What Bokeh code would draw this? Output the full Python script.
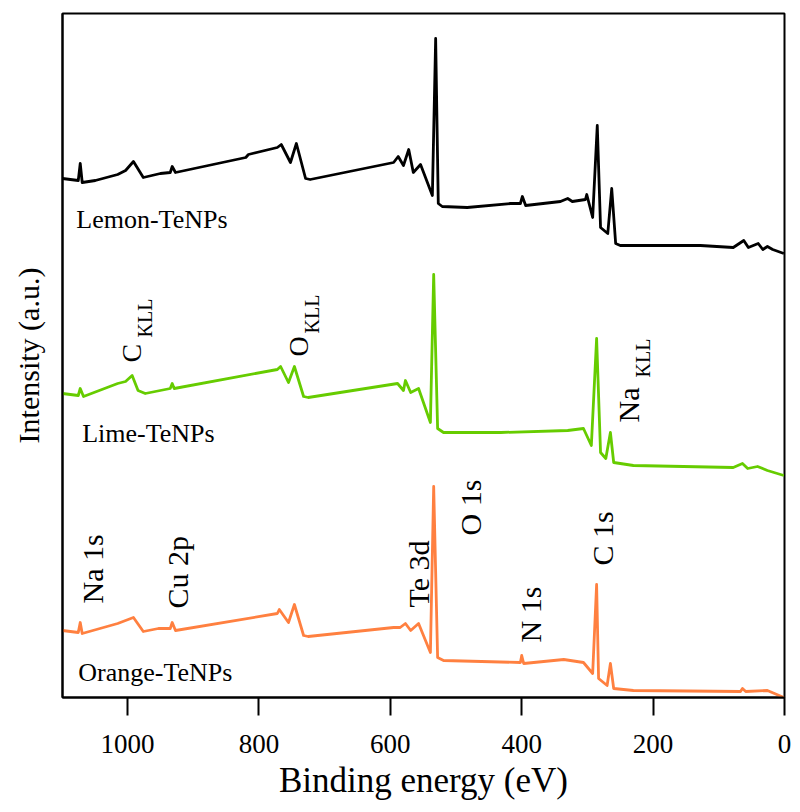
import math
from bokeh.plotting import figure
from bokeh.models import Range1d, FixedTicker
from bokeh.core.properties import value
from bokeh.embed import file_html
from bokeh.resources import INLINE

# ---------------- data ----------------
lemon_energy = [1099, 1075, 1072, 1069, 1049, 1015, 1003, 991, 976, 950, 935, 932, 927,
                820, 816, 772, 766, 752, 743, 729, 722, 595, 588, 580, 572, 565, 554,
                536, 531, 527, 521, 483, 417, 402, 399, 394, 341, 330, 323, 303, 301,
                292, 285, 280, 269, 263, 257, 250, 128, 78, 62, 55, 40, 33, 26, 18, 1]
lemon_intensity = [519, 517, 534, 515, 517, 523, 527, 536, 520, 524, 525, 531, 525,
                   540, 543, 550, 553, 535, 554, 519, 518, 535, 541, 532, 548, 525, 533,
                   502, 659, 494, 491, 490, 494, 494, 501, 492, 496, 499, 496, 498, 503,
                   480, 572, 470, 464, 509, 454, 452, 452, 450, 457, 450, 454, 448, 451, 448, 444]

lime_energy = [1099, 1075, 1072, 1067, 1015, 1003, 993, 984, 973, 935, 932, 929,
               772, 767, 755, 746, 732, 725, 589, 580, 577, 569, 557, 539, 534, 528,
               519, 432, 330, 306, 294, 286, 280, 272, 265, 260, 230, 78, 64, 56, 41, 26, 1]
lime_intensity = [304, 302, 309, 301, 314, 316, 322, 307, 304, 309, 314, 309,
                  328, 331, 315, 331, 301, 300, 314, 307, 317, 305, 309, 275, 423, 269,
                  265, 265, 267, 269, 252, 359, 245, 239, 265, 235, 232, 230, 234, 229, 231, 227, 222]

orange_energy = [1099, 1075, 1072, 1069, 1015, 991, 976, 953, 935, 932, 927,
                 772, 769, 755, 746, 732, 725, 595, 585, 577, 569, 557, 539, 534, 528,
                 519, 402, 400, 397, 336, 306, 292, 286, 283, 270, 265, 260, 230,
                 67, 64, 59, 26, 1]
orange_intensity = [67, 65, 75, 64, 74, 80, 66, 69, 69, 75, 67,
                    84, 88, 75, 93, 62, 61, 70, 70, 74, 67, 74, 45, 211, 40,
                    37, 35, 42, 34, 38, 35, 24, 113, 19, 12, 34, 9, 7,
                    6, 9, 6, 7, 0]

sample_names = ["Lemon-TeNPs", "Lime-TeNPs", "Orange-TeNPs"]
sample_label_energy = [1078, 1069, 1075]
sample_label_intensity = [478, 264, 25]

peak_labels = ["Na 1s", "Cu 2p", "Te 3d", "O 1s", "N 1s", "C 1s", "Na"]
peak_label_energy = [1054, 924, 557, 478, 387, 277, 237]
peak_label_intensity = [94, 89, 90, 162, 55, 132, 275]

auger_main = ["C", "O"]
auger_main_energy = [994, 740]
auger_main_intensity = [335, 341]

auger_sub = ["KLL", "KLL", "KLL"]
auger_sub_energy = [973, 719, 216]
auger_sub_intensity = [360, 364, 320]

x_ticks = [0, 200, 400, 600, 800, 1000]

# ---------------- figure ----------------
FONT = "'Liberation Serif', 'Times New Roman', serif"

p = figure(width=792, height=804, output_backend="svg", toolbar_location=None,
           x_range=Range1d(1099, 0), y_range=Range1d(0, 684),
           min_border_left=62, min_border_right=8, min_border_top=13, min_border_bottom=107)
p.background_fill_color = "white"
p.border_fill_color = "white"
p.xgrid.visible = False
p.ygrid.visible = False
p.outline_line_color = "black"
p.outline_line_width = 2

xa = p.xaxis[0]
xa.ticker = FixedTicker(ticks=x_ticks)
xa.minor_tick_line_color = None
xa.major_tick_in = 0
xa.major_tick_out = 18
xa.major_tick_line_width = 2
xa.major_tick_line_color = "black"
xa.axis_line_width = 2
xa.axis_line_color = "black"
xa.major_label_text_font = FONT
xa.major_label_text_font_size = "27px"
xa.major_label_text_color = "black"
xa.major_label_standoff = 19
xa.axis_label = "Binding energy (eV)"
xa.axis_label_text_font = FONT
xa.axis_label_text_font_size = "35px"
xa.axis_label_text_font_style = "normal"
xa.axis_label_text_color = "black"
xa.axis_label_standoff = 5

ya = p.yaxis[0]
ya.ticker = FixedTicker(ticks=[])
ya.minor_tick_line_color = None
ya.major_tick_in = 0
ya.major_tick_out = 0
ya.major_label_standoff = 0
ya.axis_line_width = 2
ya.axis_line_color = "black"
ya.axis_label = "Intensity (a.u.)"
ya.axis_label_text_font = FONT
ya.axis_label_text_font_size = "30px"
ya.axis_label_text_font_style = "normal"
ya.axis_label_text_color = "black"
ya.axis_label_standoff = 18

# spectra
p.line(lemon_energy, lemon_intensity, line_color="#000000", line_width=2.8, line_join="round")
p.line(lime_energy, lime_intensity, line_color="#66cc00", line_width=2.8, line_join="round")
p.line(orange_energy, orange_intensity, line_color="#ff8040", line_width=2.8, line_join="round")

# sample names
p.text(x=sample_label_energy, y=sample_label_intensity, text=sample_names,
       text_font=value(FONT), text_font_size="26px", text_color="black",
       text_align="left", text_baseline="alphabetic")

rot = math.pi / 2
p.text(x=peak_label_energy, y=peak_label_intensity, text=peak_labels, angle=rot,
       text_font=value(FONT), text_font_size="30px", text_color="black",
       text_align="left", text_baseline="alphabetic")
p.text(x=auger_main_energy, y=auger_main_intensity, text=auger_main, angle=rot,
       text_font=value(FONT), text_font_size="28px", text_color="black",
       text_align="left", text_baseline="alphabetic")
p.text(x=auger_sub_energy, y=auger_sub_intensity, text=auger_sub, angle=rot,
       text_font=value(FONT), text_font_size="20px", text_color="black",
       text_align="left", text_baseline="alphabetic")

open("out.html", "w").write(file_html(p, INLINE))
